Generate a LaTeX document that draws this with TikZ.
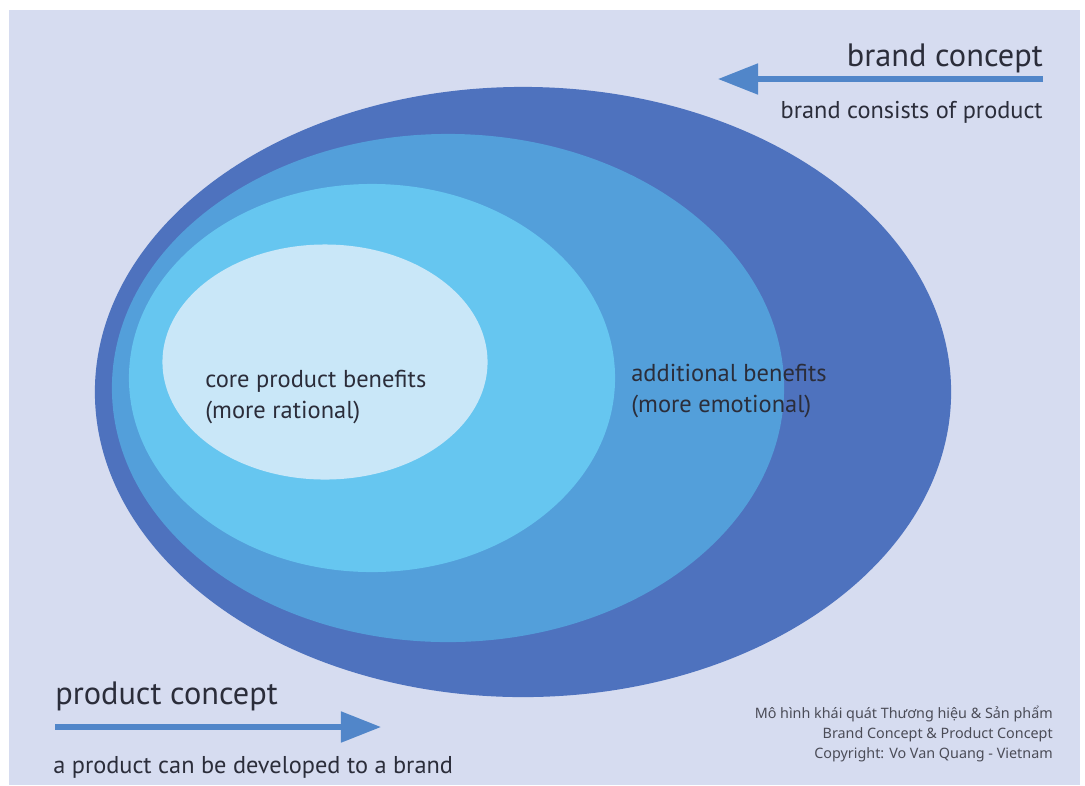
\documentclass[tikz,border=0pt]{standalone}
\usepackage{fontspec}
\setmainfont{PT Sans}
\newfontfamily\vnfont{Noto Sans}
\usetikzlibrary{positioning,arrows.meta,shapes.geometric}
\definecolor{pagebg}{HTML}{D6DCF0}
\definecolor{ringdeep}{HTML}{4E72BE}
\definecolor{ringmid}{HTML}{539FDA}
\definecolor{ringsky}{HTML}{66C6F0}
\definecolor{ringcore}{HTML}{C9E7F8}
\definecolor{arrowblue}{HTML}{5186C9}
\definecolor{inktext}{HTML}{2B2D3A}
\tikzset{
  ring/.style={ellipse, inner sep=0pt, draw=none},
  biglab/.style={font=\fontsize{23}{27}\selectfont, text=inktext, inner sep=0pt},
  sublab/.style={font=\fontsize{17.3}{21}\selectfont, text=inktext, inner sep=0pt},
  benlab/.style={font=\fontsize{17.4}{21.5}\selectfont, text=inktext, align=left, inner sep=0pt},
  credlab/.style={font=\vnfont\fontsize{10.2}{14.2}\selectfont, text=inktext!85, align=right, inner sep=0pt},
  flow/.style={-{Triangle[length=1cm, width=0.75cm]}, line width=3.6pt, draw=arrowblue},
}
\begin{document}
\begin{tikzpicture}[x=0.025cm, y=-0.025cm]
  \useasboundingbox (0,0) rectangle (1085,785);
  % page
  \fill[white] (0,0) rectangle (1085,785);
  \fill[pagebg] (9,10) rectangle (1080,785);
  % nested rings, outer to inner
  \node[ring, fill=ringdeep, minimum width=21.4cm, minimum height=15.25cm] (brand) at (523,392) {};
  \node[ring, fill=ringmid, minimum width=16.8cm, minimum height=12.7cm] (extra) at (448,388) {};
  \node[ring, fill=ringsky, minimum width=12.15cm, minimum height=9.7cm] (middle) at (372,378) {};
  \node[ring, fill=ringcore, minimum width=8.125cm, minimum height=5.875cm] (core) at (325,362) {};
  % benefit labels (anchored on the last line)
  \node[benlab, anchor=base west] (corelab) at (205,418) {core product benefits\\(more rational)};
  \node[benlab, anchor=base west] (extralab) at (631,412) {additional benefits\\(more emotional)};
  % brand concept, top right
  \node[biglab, anchor=base east] (brandtitle) at (1043,66) {brand concept};
  \node[sublab, anchor=base east] (brandnote) at (1043,118) {brand consists of product};
  \coordinate (brandfrom) at (1043,79);
  \coordinate (brandto) at (718,79);
  \draw[flow] (brandfrom) -- (brandto);
  % product concept, bottom left
  \node[biglab, anchor=base west] (prodtitle) at (55,704) {product concept};
  \node[sublab, anchor=base west] (prodnote) at (53,773) {a product can be developed to a brand};
  \coordinate (prodfrom) at (55,727);
  \coordinate (prodto) at (381,727);
  \draw[flow] (prodfrom) -- (prodto);
  % credits
  \node[credlab, anchor=base east] (credits) at (1053,758) {Mô hình khái quát Thương hiệu \& Sản phẩm\\Brand Concept \& Product Concept\\Copyright: Vo Van Quang - Vietnam};
\end{tikzpicture}
\end{document}
